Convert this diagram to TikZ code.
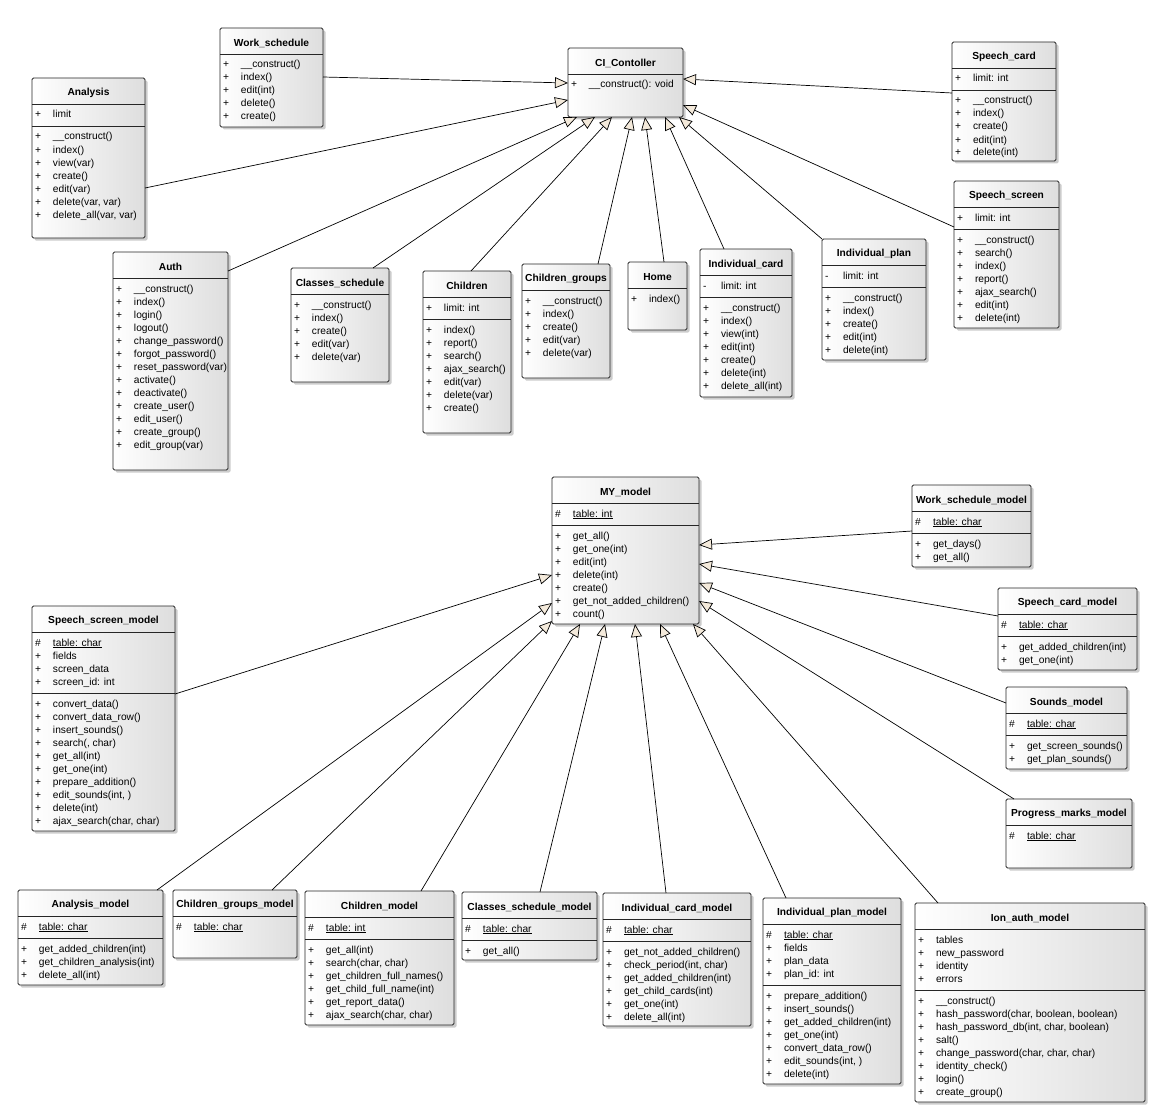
\documentclass[tikz,border=0pt]{standalone}
\usepackage{fontspec}
\setmainfont{Liberation Sans}
\usetikzlibrary{positioning, arrows.meta, calc, shadows}

\definecolor{tipfill}{HTML}{F4EADB}

% one row of a compartment: visibility mark + member
\newcommand\mr[2]{\rule[-3.5pt]{0pt}{13pt}\makebox[18pt][l]{#1}#2}

% name, north west corner, width, height, title, first rows, second rows
\newcommand\umlclass[7]{%
  \node[cls, minimum width=#3pt, minimum height=#4pt] (#1) at #2 {};
  \node[clsname] at ($(#1.north)+(0,15)$) {#5};
  \draw[clsline] ($(#1.north west)+(0,26)$) -- ($(#1.north east)+(0,26)$);
  \node[clsrows] (#1-a) at ($(#1.north west)+(0,26)$) {#6};
  \if\relax\detokenize{#7}\relax\else
    \draw[clsline] (#1-a.south -| #1.west) -- (#1-a.south -| #1.east);
    \node[clsrows] (#1-b) at (#1-a.south -| #1.west) {#7};
  \fi}

\begin{document}
\begin{tikzpicture}[x=1pt, y=-1pt,
    font=\fontsize{10.2}{13}\selectfont,
    every edge/.style = {draw=black, line width=.7pt,
      -{Triangle[fill=tipfill, length=13pt, width=11pt]}},
    cls/.style = {draw=black!85, line width=.8pt, rounded corners=1.5pt,
      left color=white, right color=black!13,
      drop shadow={shadow xshift=2.5pt, shadow yshift=-2.5pt, opacity=.4},
      anchor=north west, inner sep=0pt, outer sep=0pt},
    clsname/.style = {font=\fontsize{10.2}{13}\selectfont\bfseries, inner sep=0pt},
    clsline/.style = {draw=black!85, line width=.8pt},
    clsrows/.style = {anchor=north west, align=left, inner xsep=3pt,
      inner ysep=4.5pt, outer sep=0pt}
                    ]
    \useasboundingbox[fill=white] (0,0) rectangle (1170,1113);

    % controllers
    \umlclass{ws}{(220,28)}{103}{99}{Work\_schedule}
      {\mr{+}{\_\_construct()}\\\mr{+}{index()}\\\mr{+}{edit(int)}\\\mr{+}{delete()}\\\mr{+}{create()}}{}
    \umlclass{an}{(32,78)}{113}{160}{Analysis}
      {\mr{+}{limit}}
      {\mr{+}{\_\_construct()}\\\mr{+}{index()}\\\mr{+}{view(var)}\\\mr{+}{create()}\\\mr{+}{edit(var)}\\\mr{+}{delete(var, var)}\\\mr{+}{delete\_all(var, var)}}
    \umlclass{ci}{(568,48)}{115}{69}{CI\_Contoller}
      {\mr{+}{\_\_construct(): void}}{}
    \umlclass{sc}{(952,42)}{104}{119}{Speech\_card}
      {\mr{+}{limit: int}}
      {\mr{+}{\_\_construct()}\\\mr{+}{index()}\\\mr{+}{create()}\\\mr{+}{edit(int)}\\\mr{+}{delete(int)}}
    \umlclass{ss}{(954,181)}{105}{147}{Speech\_screen}
      {\mr{+}{limit: int}}
      {\mr{+}{\_\_construct()}\\\mr{+}{search()}\\\mr{+}{index()}\\\mr{+}{report()}\\\mr{+}{ajax\_search()}\\\mr{+}{edit(int)}\\\mr{+}{delete(int)}}
    \umlclass{au}{(113,252)}{115}{218}{Auth}
      {\mr{+}{\_\_construct()}\\\mr{+}{index()}\\\mr{+}{login()}\\\mr{+}{logout()}\\\mr{+}{change\_password()}\\\mr{+}{forgot\_password()}\\\mr{+}{reset\_password(var)}\\\mr{+}{activate()}\\\mr{+}{deactivate()}\\\mr{+}{create\_user()}\\\mr{+}{edit\_user()}\\\mr{+}{create\_group()}\\\mr{+}{edit\_group(var)}}{}
    \umlclass{cs}{(291,268)}{98}{114}{Classes\_schedule}
      {\mr{+}{\_\_construct()}\\\mr{+}{index()}\\\mr{+}{create()}\\\mr{+}{edit(var)}\\\mr{+}{delete(var)}}{}
    \umlclass{ch}{(423,271)}{88}{162}{Children}
      {\mr{+}{limit: int}}
      {\mr{+}{index()}\\\mr{+}{report()}\\\mr{+}{search()}\\\mr{+}{ajax\_search()}\\\mr{+}{edit(var)}\\\mr{+}{delete(var)}\\\mr{+}{create()}}
    \umlclass{cg}{(522,264)}{88}{114}{Children\_groups}
      {\mr{+}{\_\_construct()}\\\mr{+}{index()}\\\mr{+}{create()}\\\mr{+}{edit(var)}\\\mr{+}{delete(var)}}{}
    \umlclass{ho}{(628,262)}{59}{68}{Home}
      {\mr{+}{index()}}{}
    \umlclass{ic}{(700,249)}{92}{148}{Individual\_card}
      {\mr{-}{limit: int}}
      {\mr{+}{\_\_construct()}\\\mr{+}{index()}\\\mr{+}{view(int)}\\\mr{+}{edit(int)}\\\mr{+}{create()}\\\mr{+}{delete(int)}\\\mr{+}{delete\_all(int)}}
    \umlclass{ip}{(822,239)}{104}{121}{Individual\_plan}
      {\mr{-}{limit: int}}
      {\mr{+}{\_\_construct()}\\\mr{+}{index()}\\\mr{+}{create()}\\\mr{+}{edit(int)}\\\mr{+}{delete(int)}}

    % models
    \umlclass{my}{(552,477)}{147}{147}{MY\_model}
      {\mr{\#}{\underline{table: int}}}
      {\mr{+}{get\_all()}\\\mr{+}{get\_one(int)}\\\mr{+}{edit(int)}\\\mr{+}{delete(int)}\\\mr{+}{create()}\\\mr{+}{get\_not\_added\_children()}\\\mr{+}{count()}}
    \umlclass{wsm}{(912,485)}{119}{82}{Work\_schedule\_model}
      {\mr{\#}{\underline{table: char}}}
      {\mr{+}{get\_days()}\\\mr{+}{get\_all()}}
    \umlclass{scm}{(998,588)}{139}{82}{Speech\_card\_model}
      {\mr{\#}{\underline{table: char}}}
      {\mr{+}{get\_added\_children(int)}\\\mr{+}{get\_one(int)}}
    \umlclass{sm}{(1006,687)}{121}{82}{Sounds\_model}
      {\mr{\#}{\underline{table: char}}}
      {\mr{+}{get\_screen\_sounds()}\\\mr{+}{get\_plan\_sounds()}}
    \umlclass{pm}{(1006,799)}{126}{69}{Progress\_marks\_model}
      {\mr{\#}{\underline{table: char}}}{}
    \umlclass{ssm}{(32,606)}{143}{225}{Speech\_screen\_model}
      {\mr{\#}{\underline{table: char}}\\\mr{+}{fields}\\\mr{+}{screen\_data}\\\mr{+}{screen\_id: int}}
      {\mr{+}{convert\_data()}\\\mr{+}{convert\_data\_row()}\\\mr{+}{insert\_sounds()}\\\mr{+}{search(, char)}\\\mr{+}{get\_all(int)}\\\mr{+}{get\_one(int)}\\\mr{+}{prepare\_addition()}\\\mr{+}{edit\_sounds(int, )}\\\mr{+}{delete(int)}\\\mr{+}{ajax\_search(char, char)}}
    \umlclass{am}{(18,890)}{145}{95}{Analysis\_model}
      {\mr{\#}{\underline{table: char}}}
      {\mr{+}{get\_added\_children(int)}\\\mr{+}{get\_children\_analysis(int)}\\\mr{+}{delete\_all(int)}}
    \umlclass{cgm}{(173,890)}{124}{68}{Children\_groups\_model}
      {\mr{\#}{\underline{table: char}}}{}
    \umlclass{chm}{(305,891)}{149}{134}{Children\_model}
      {\mr{\#}{\underline{table: int}}}
      {\mr{+}{get\_all(int)}\\\mr{+}{search(char, char)}\\\mr{+}{get\_children\_full\_names()}\\\mr{+}{get\_child\_full\_name(int)}\\\mr{+}{get\_report\_data()}\\\mr{+}{ajax\_search(char, char)}}
    \umlclass{csm}{(462,892)}{135}{68}{Classes\_schedule\_model}
      {\mr{\#}{\underline{table: char}}}
      {\mr{+}{get\_all()}}
    \umlclass{icm}{(603,893)}{148}{133}{Individual\_card\_model}
      {\mr{\#}{\underline{table: char}}}
      {\mr{+}{get\_not\_added\_children()}\\\mr{+}{check\_period(int, char)}\\\mr{+}{get\_added\_children(int)}\\\mr{+}{get\_child\_cards(int)}\\\mr{+}{get\_one(int)}\\\mr{+}{delete\_all(int)}}
    \umlclass{ipm}{(763,898)}{138}{186}{Individual\_plan\_model}
      {\mr{\#}{\underline{table: char}}\\\mr{+}{fields}\\\mr{+}{plan\_data}\\\mr{+}{plan\_id: int}}
      {\mr{+}{prepare\_addition()}\\\mr{+}{insert\_sounds()}\\\mr{+}{get\_added\_children(int)}\\\mr{+}{get\_one(int)}\\\mr{+}{convert\_data\_row()}\\\mr{+}{edit\_sounds(int, )}\\\mr{+}{delete(int)}}
    \umlclass{iam}{(915,903)}{230}{199}{Ion\_auth\_model}
      {\mr{+}{tables}\\\mr{+}{new\_password}\\\mr{+}{identity}\\\mr{+}{errors}}
      {\mr{+}{\_\_construct()}\\\mr{+}{hash\_password(char, boolean, boolean)}\\\mr{+}{hash\_password\_db(int, char, boolean)}\\\mr{+}{salt()}\\\mr{+}{change\_password(char, char, char)}\\\mr{+}{identity\_check()}\\\mr{+}{login()}\\\mr{+}{create\_group()}}

    % generalisations
    \path   ($(ws.north east)+(0,49)$)   edge ($(ci.north west)+(0,35)$)
            ($(an.north east)+(0,110)$)  edge ($(ci.north west)+(0,52)$)
            ($(au.north east)+(0,19)$)   edge ($(ci.south west)+(9,0)$)
            ($(cs.north west)+(82,0)$)   edge ($(ci.south west)+(27,0)$)
            ($(ch.north west)+(48,0)$)   edge ($(ci.south west)+(44,0)$)
            ($(cg.north west)+(76,0)$)   edge ($(ci.south west)+(64,0)$)
            ($(ho.north west)+(36,0)$)   edge ($(ci.south west)+(77,0)$)
            ($(ic.north west)+(24,0)$)   edge ($(ci.south west)+(97,0)$)
            (ip.north west)              edge ($(ci.south east)+(-4,0)$)
            ($(ss.north west)+(0,46)$)   edge ($(ci.north east)+(0,57)$)
            ($(sc.north west)+(0,51)$)   edge ($(ci.north east)+(0,31)$);

    \path   ($(wsm.north west)+(0,46)$)  edge ($(my.north east)+(0,68)$)
            ($(scm.north west)+(0,28)$)  edge ($(my.north east)+(0,87)$)
            ($(sm.north west)+(0,16)$)   edge ($(my.north east)+(0,106)$)
            ($(pm.north west)+(8,0)$)    edge ($(my.north east)+(0,124)$)
            ($(iam.north west)+(23,0)$)  edge ($(my.south east)+(-6,0)$)
            ($(ipm.north west)+(23,0)$)  edge ($(my.south west)+(108,0)$)
            ($(icm.north west)+(63,0)$)  edge ($(my.south west)+(83,0)$)
            ($(csm.north west)+(78,0)$)  edge ($(my.south west)+(53,0)$)
            ($(chm.north west)+(116,0)$) edge ($(my.south west)+(28,0)$)
            ($(cgm.north west)+(99,0)$)  edge ($(my.south west)+(0,-3)$)
            ($(am.north west)+(139,0)$)  edge ($(my.north west)+(0,126)$)
            ($(ssm.north east)+(0,88)$)  edge ($(my.north west)+(0,98)$);
\end{tikzpicture}
\end{document}
